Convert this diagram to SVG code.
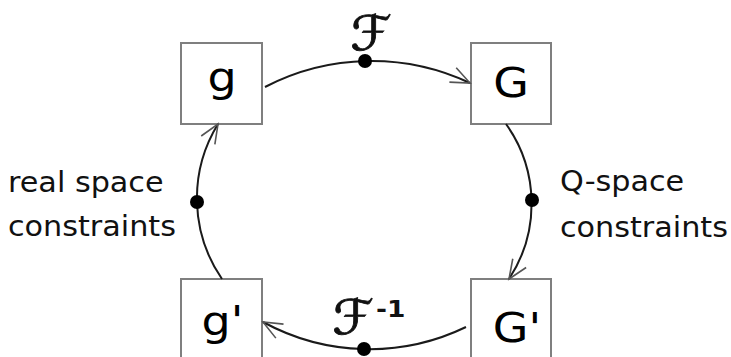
<svg xmlns="http://www.w3.org/2000/svg" width="731" height="357" viewBox="0 0 731 357">
<style>
.box{fill:#fff;stroke:#7f7f7f;stroke-width:2}
.lbl{font-family:"DejaVu Sans","Verdana",sans-serif;font-size:40px;fill:#000;text-anchor:middle}
.side{font-family:"DejaVu Sans","Verdana",sans-serif;font-size:28px;fill:#111}
.scr{font-family:"DejaVu Sans","DejaVu Serif",serif;font-size:48px;fill:#111;stroke:#111;stroke-width:0.8;text-anchor:middle}
.arc{fill:none;stroke:#1a1a1a;stroke-width:2;marker-end:url(#arr)}
.dot{fill:#000}
</style>
<defs>
<marker id="arr" markerUnits="userSpaceOnUse" markerWidth="30" markerHeight="30" viewBox="-25 -15 30 30" refX="0" refY="0" orient="auto">
<path d="M -19 -8 L 0 0 L -19 8" fill="none" stroke="#555" stroke-width="1.6"/>
</marker>
</defs>
<rect width="731" height="357" fill="#fff"/>
<g id="node-g">
<rect class="box" x="181" y="43" width="81" height="81"/>
<text class="lbl" transform="translate(222,91) scale(1.15,1)">g</text>
</g>
<g id="node-G">
<rect class="box" x="471" y="43" width="80" height="81"/>
<text class="lbl" transform="translate(511,97) scale(1.15,1)">G</text>
</g>
<g id="node-g-prime">
<rect class="box" x="181" y="279" width="81" height="90"/>
<text class="lbl" transform="translate(222.5,335) scale(1.15,1)">g'</text>
</g>
<g id="node-G-prime">
<rect class="box" x="471" y="279" width="80" height="90"/>
<text class="lbl" transform="translate(517,342) scale(1.15,1)">G'</text>
</g>
<g id="connectors">
<path class="arc" d="M 265 87 A 231 231 0 0 1 470 83"/>
<path class="arc" d="M 506 124 A 137 137 0 0 1 509 279"/>
<path class="arc" d="M 466 327 A 222 222 0 0 1 263 322"/>
<path class="arc" d="M 222 279 A 142 142 0 0 1 218 124"/>
<circle class="dot" cx="365" cy="61" r="7"/>
<circle class="dot" cx="532" cy="200" r="7"/>
<circle class="dot" cx="364" cy="349" r="7"/>
<circle class="dot" cx="197" cy="202" r="7"/>
</g>
<g id="labels">
<text class="scr" transform="translate(371,50) scale(1.1,1)">ℱ</text>
<text class="scr" transform="translate(353,334) scale(1.1,1)">ℱ</text>
<text transform="translate(376,317) scale(1.15,1)" font-family="DejaVu Sans, sans-serif" font-weight="bold" font-size="23" fill="#111">-1</text>
<text class="side" transform="translate(8,192) scale(1.08,1)">real space</text>
<text class="side" transform="translate(8,236) scale(1.08,1)">constraints</text>
<text class="side" transform="translate(560,191) scale(1.08,1)">Q-space</text>
<text class="side" transform="translate(560,237) scale(1.08,1)">constraints</text>
</g>
</svg>
